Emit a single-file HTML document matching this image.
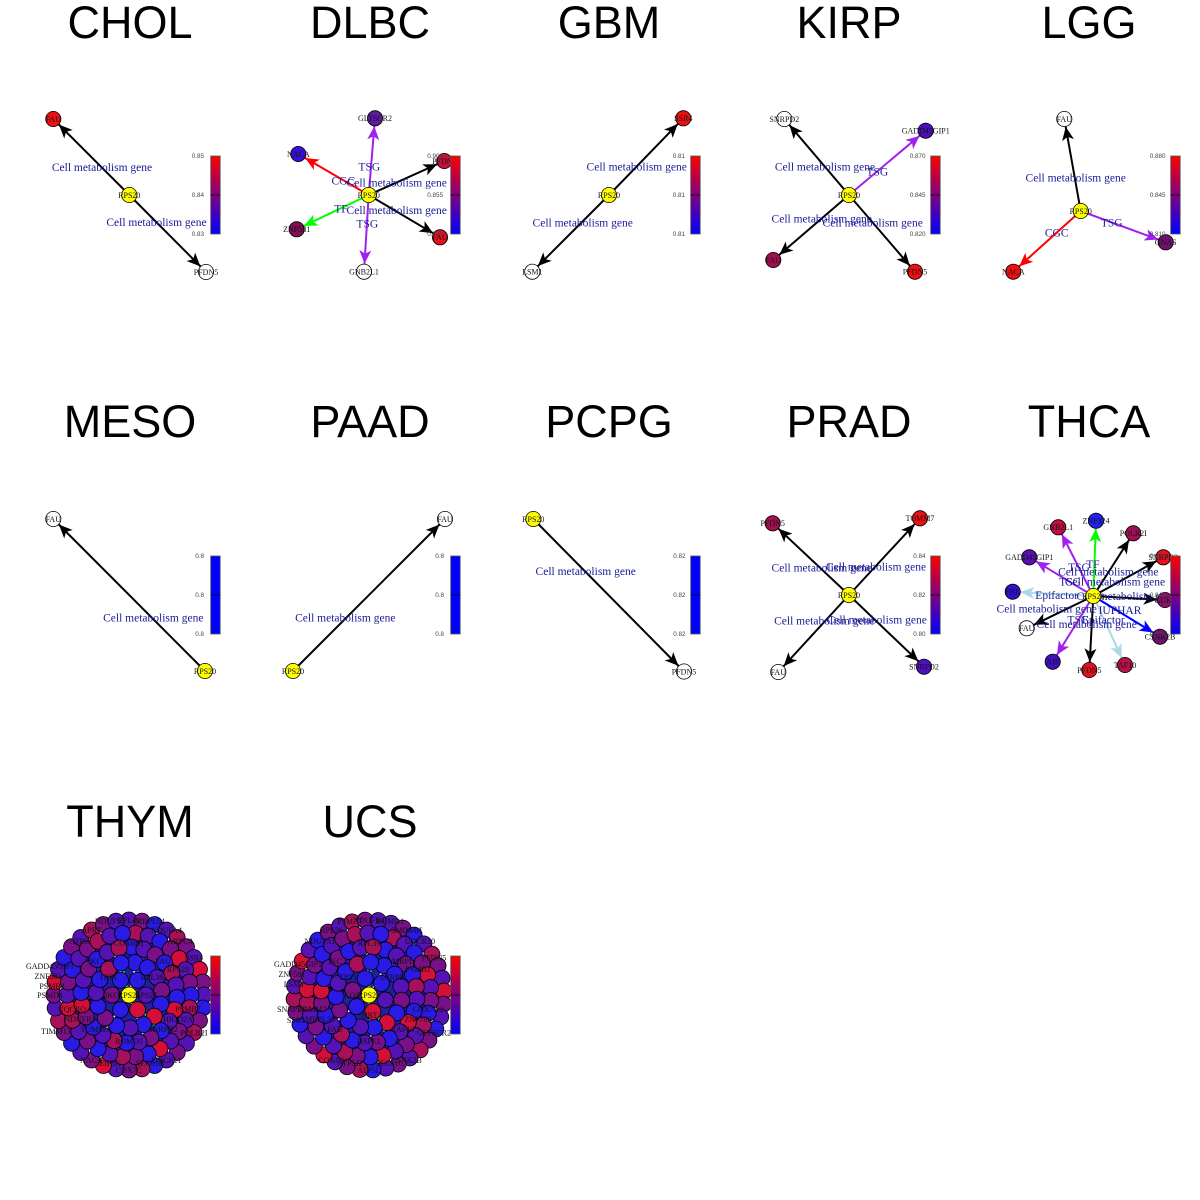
<!DOCTYPE html>
<html><head><meta charset="utf-8"><style>
html,body{margin:0;padding:0;background:#fff;}
svg{display:block;}
.t{font-family:"Liberation Sans",Arial,sans-serif;font-size:45px;fill:#000;text-anchor:middle;}
.el{font-family:"Liberation Serif","Times New Roman",serif;font-size:11.5px;fill:#1a1a96;text-anchor:middle;}
.nl{font-family:"Liberation Serif","Times New Roman",serif;font-size:8px;fill:#111;text-anchor:middle;}
.cl{font-family:"Liberation Sans",Arial,sans-serif;font-size:6.3px;fill:#444;text-anchor:end;}
.e{stroke-width:2;fill:none;}
</style></head><body>
<svg width="1200" height="1200" viewBox="0 0 1200 1200" xmlns="http://www.w3.org/2000/svg">
<defs>
<marker id="mk" markerUnits="userSpaceOnUse" markerWidth="30" markerHeight="14" viewBox="0 0 30 14" refX="21.5" refY="7" orient="auto" overflow="visible"><path d="M0,1 L13.5,7 L0,13 L3.5,7 Z" fill="#000"/></marker>
<marker id="mr" markerUnits="userSpaceOnUse" markerWidth="30" markerHeight="14" viewBox="0 0 30 14" refX="21.5" refY="7" orient="auto" overflow="visible"><path d="M0,1 L13.5,7 L0,13 L3.5,7 Z" fill="#ff0000"/></marker>
<marker id="mp" markerUnits="userSpaceOnUse" markerWidth="30" markerHeight="14" viewBox="0 0 30 14" refX="21.5" refY="7" orient="auto" overflow="visible"><path d="M0,1 L13.5,7 L0,13 L3.5,7 Z" fill="#a020f0"/></marker>
<marker id="mg" markerUnits="userSpaceOnUse" markerWidth="30" markerHeight="14" viewBox="0 0 30 14" refX="21.5" refY="7" orient="auto" overflow="visible"><path d="M0,1 L13.5,7 L0,13 L3.5,7 Z" fill="#00ff00"/></marker>
<marker id="ml" markerUnits="userSpaceOnUse" markerWidth="30" markerHeight="14" viewBox="0 0 30 14" refX="21.5" refY="7" orient="auto" overflow="visible"><path d="M0,1 L13.5,7 L0,13 L3.5,7 Z" fill="#add8e6"/></marker>
<marker id="mb" markerUnits="userSpaceOnUse" markerWidth="30" markerHeight="14" viewBox="0 0 30 14" refX="21.5" refY="7" orient="auto" overflow="visible"><path d="M0,1 L13.5,7 L0,13 L3.5,7 Z" fill="#0000ff"/></marker>
<linearGradient id="cb" x1="0" y1="0" x2="0" y2="1"><stop offset="0" stop-color="#ff0000"/><stop offset="0.5" stop-color="#800080"/><stop offset="1" stop-color="#0000ff"/></linearGradient>
<g id="cbar"><rect x="0" y="0" width="9.5" height="78" fill="url(#cb)" stroke="#555" stroke-width="0.8"/><line x1="0" y1="39" x2="9.5" y2="39" stroke="#000" stroke-width="0.8"/></g>
<g id="cbarb"><rect x="0" y="0" width="9.5" height="78" fill="#0000ff" stroke="#555" stroke-width="0.8"/><line x1="0" y1="39" x2="9.5" y2="39" stroke="#000" stroke-width="0.8"/></g>
</defs>
<rect width="1200" height="1200" fill="#fff"/>

<!-- Titles -->
<text class="t" x="130" y="38">CHOL</text>
<text class="t" x="370" y="38">DLBC</text>
<text class="t" x="609" y="38">GBM</text>
<text class="t" x="849" y="38">KIRP</text>
<text class="t" x="1089" y="38">LGG</text>
<text class="t" x="130" y="437">MESO</text>
<text class="t" x="370" y="437">PAAD</text>
<text class="t" x="609" y="437">PCPG</text>
<text class="t" x="849" y="437">PRAD</text>
<text class="t" x="1089" y="437">THCA</text>
<text class="t" x="130" y="837">THYM</text>
<text class="t" x="370" y="837">UCS</text>

<!-- CHOL -->
<g>
<line class="e" x1="129.3" y1="195" x2="53.3" y2="119" stroke="#000" marker-end="url(#mk)"/>
<line class="e" x1="129.3" y1="195" x2="206" y2="272" stroke="#000" marker-end="url(#mk)"/>
<text class="el" x="102" y="171">Cell metabolism gene</text>
<text class="el" x="156.5" y="226">Cell metabolism gene</text>
<g stroke="#000" stroke-width="0.8">
<circle cx="53.3" cy="119" r="7.6" fill="#ee1010"/>
<circle cx="129.3" cy="195" r="7.6" fill="#ffff00"/>
<circle cx="206" cy="272" r="7.6" fill="#fff"/>
</g>
<text class="nl" x="53.3" y="121.8">FAU</text>
<text class="nl" x="129.3" y="197.8">RPS20</text>
<text class="nl" x="206" y="274.8">PFDN5</text>
<use href="#cbar" x="210.7" y="156"/>
<text class="cl" x="204" y="158.2">0.85</text>
<text class="cl" x="204" y="197.2">0.84</text>
<text class="cl" x="204" y="236.2">0.83</text>
</g>

<!-- DLBC -->
<g>
<line class="e" x1="368.7" y1="195" x2="375" y2="118.3" stroke="#a020f0" marker-end="url(#mp)"/>
<line class="e" x1="368.7" y1="195" x2="298.3" y2="154" stroke="#ff0000" marker-end="url(#mr)"/>
<line class="e" x1="368.7" y1="195" x2="444.3" y2="161" stroke="#000" marker-end="url(#mk)"/>
<line class="e" x1="368.7" y1="195" x2="296.7" y2="229.3" stroke="#00ff00" marker-end="url(#mg)"/>
<line class="e" x1="368.7" y1="195" x2="440" y2="237.3" stroke="#000" marker-end="url(#mk)"/>
<line class="e" x1="368.7" y1="195" x2="364" y2="271.7" stroke="#a020f0" marker-end="url(#mp)"/>
<text class="el" x="369.3" y="170.7">TSG</text>
<text class="el" x="343.3" y="184.7">CGC</text>
<text class="el" x="396.7" y="186.3">Cell metabolism gene</text>
<text class="el" x="341" y="212.3">TF</text>
<text class="el" x="396.7" y="214">Cell metabolism gene</text>
<text class="el" x="367.3" y="227.3">TSG</text>
<g stroke="#000" stroke-width="0.8">
<circle cx="375" cy="118.3" r="7.6" fill="#5c1a9e"/>
<circle cx="298.3" cy="154" r="7.6" fill="#3410d4"/>
<circle cx="444.3" cy="161" r="7.6" fill="#c4103c"/>
<circle cx="296.7" cy="229.3" r="7.6" fill="#801052"/>
<circle cx="440" cy="237.3" r="7.6" fill="#e8101c"/>
<circle cx="364" cy="271.7" r="7.6" fill="#fff"/>
<circle cx="368.7" cy="195" r="7.6" fill="#ffff00"/>
</g>
<text class="nl" x="375" y="121.1">GLTSCR2</text>
<text class="nl" x="298.3" y="156.8">NACA</text>
<text class="nl" x="444.3" y="163.8">PFDN5</text>
<text class="nl" x="296.7" y="232.1">ZNF581</text>
<text class="nl" x="440" y="240.1">FAU</text>
<text class="nl" x="364" y="274.5">GNB2L1</text>
<text class="nl" x="368.7" y="197.8">RPS20</text>
<use href="#cbar" x="450.7" y="156"/>
<text class="cl" x="443" y="158.2">0.900</text>
<text class="cl" x="443" y="197.2">0.855</text>
<text class="cl" x="443" y="236.2">0.810</text>
</g>

<!-- GBM -->
<g>
<line class="e" x1="609" y1="195" x2="683.3" y2="118.3" stroke="#000" marker-end="url(#mk)"/>
<line class="e" x1="609" y1="195" x2="532.3" y2="271.7" stroke="#000" marker-end="url(#mk)"/>
<text class="el" x="636.7" y="170.7">Cell metabolism gene</text>
<text class="el" x="582.7" y="226.3">Cell metabolism gene</text>
<g stroke="#000" stroke-width="0.8">
<circle cx="683.3" cy="118.3" r="7.6" fill="#ee1010"/>
<circle cx="609" cy="195" r="7.6" fill="#ffff00"/>
<circle cx="532.3" cy="271.7" r="7.6" fill="#fff"/>
</g>
<text class="nl" x="683.3" y="121.1">SSR4</text>
<text class="nl" x="609" y="197.8">RPS20</text>
<text class="nl" x="532.3" y="274.5">LSM1</text>
<use href="#cbar" x="690.7" y="156"/>
<text class="cl" x="685" y="158.2">0.81</text>
<text class="cl" x="685" y="197.2">0.81</text>
<text class="cl" x="685" y="236.2">0.81</text>
</g>

<!-- KIRP -->
<g>
<line class="e" x1="849" y1="195" x2="784.3" y2="119" stroke="#000" marker-end="url(#mk)"/>
<line class="e" x1="849" y1="195" x2="925.7" y2="130.7" stroke="#a020f0" marker-end="url(#mp)"/>
<line class="e" x1="849" y1="195" x2="773.3" y2="260" stroke="#000" marker-end="url(#mk)"/>
<line class="e" x1="849" y1="195" x2="915" y2="271.7" stroke="#000" marker-end="url(#mk)"/>
<text class="el" x="825" y="170.7">Cell metabolism gene</text>
<text class="el" x="877.3" y="175.7">TSG</text>
<text class="el" x="821.7" y="222.3">Cell metabolism gene</text>
<text class="el" x="872.7" y="226.7">Cell metabolism gene</text>
<g stroke="#000" stroke-width="0.8">
<circle cx="784.3" cy="119" r="7.6" fill="#fff"/>
<circle cx="925.7" cy="130.7" r="7.6" fill="#4a10b8"/>
<circle cx="773.3" cy="260" r="7.6" fill="#a01050"/>
<circle cx="915" cy="271.7" r="7.6" fill="#ee1010"/>
<circle cx="849" cy="195" r="7.6" fill="#ffff00"/>
</g>
<text class="nl" x="784.3" y="121.8">SNRPD2</text>
<text class="nl" x="925.7" y="133.5">GADD45GIP1</text>
<text class="nl" x="773.3" y="262.8">FAU</text>
<text class="nl" x="915" y="274.5">PFDN5</text>
<text class="nl" x="849" y="197.8">RPS20</text>
<use href="#cbar" x="930.7" y="156"/>
<text class="cl" x="925.5" y="158.2">0.870</text>
<text class="cl" x="925.5" y="197.2">0.845</text>
<text class="cl" x="925.5" y="236.2">0.820</text>
</g>

<!-- LGG -->
<g>
<line class="e" x1="1080.7" y1="211" x2="1064.3" y2="119" stroke="#000" marker-end="url(#mk)"/>
<line class="e" x1="1080.7" y1="211" x2="1013.3" y2="271.7" stroke="#ff0000" marker-end="url(#mr)"/>
<line class="e" x1="1080.7" y1="211" x2="1165.7" y2="242.3" stroke="#a020f0" marker-end="url(#mp)"/>
<text class="el" x="1075.7" y="181.3">Cell metabolism gene</text>
<text class="el" x="1111.7" y="226.3">TSG</text>
<text class="el" x="1056.7" y="236.7">CGC</text>
<g stroke="#000" stroke-width="0.8">
<circle cx="1064.3" cy="119" r="7.6" fill="#fff"/>
<circle cx="1013.3" cy="271.7" r="7.6" fill="#ee1010"/>
<circle cx="1165.7" cy="242.3" r="7.6" fill="#701070"/>
<circle cx="1080.7" cy="211" r="7.6" fill="#ffff00"/>
</g>
<text class="nl" x="1064.3" y="121.8">FAU</text>
<text class="nl" x="1013.3" y="274.5">NACA</text>
<text class="nl" x="1165.7" y="245.1">GNAS</text>
<text class="nl" x="1080.7" y="213.8">RPS20</text>
<use href="#cbar" x="1170.7" y="156"/>
<text class="cl" x="1165.5" y="158.2">0.880</text>
<text class="cl" x="1165.5" y="197.2">0.845</text>
<text class="cl" x="1165.5" y="236.2">0.810</text>
</g>

<!-- MESO -->
<g>
<line class="e" x1="205" y1="671" x2="53.3" y2="519" stroke="#000" marker-end="url(#mk)"/>
<text class="el" x="153.3" y="621.7">Cell metabolism gene</text>
<g stroke="#000" stroke-width="0.8">
<circle cx="53.3" cy="519" r="7.6" fill="#fff"/>
<circle cx="205" cy="671" r="7.6" fill="#ffff00"/>
</g>
<text class="nl" x="53.3" y="521.8">FAU</text>
<text class="nl" x="205" y="673.8">RPS20</text>
<use href="#cbarb" x="210.7" y="556"/>
<text class="cl" x="204" y="558.2">0.8</text>
<text class="cl" x="204" y="597.2">0.8</text>
<text class="cl" x="204" y="636.2">0.8</text>
</g>

<!-- PAAD -->
<g>
<line class="e" x1="293" y1="671" x2="445" y2="519" stroke="#000" marker-end="url(#mk)"/>
<text class="el" x="345.3" y="621.7">Cell metabolism gene</text>
<g stroke="#000" stroke-width="0.8">
<circle cx="445" cy="519" r="7.6" fill="#fff"/>
<circle cx="293" cy="671" r="7.6" fill="#ffff00"/>
</g>
<text class="nl" x="445" y="521.8">FAU</text>
<text class="nl" x="293" y="673.8">RPS20</text>
<use href="#cbarb" x="450.7" y="556"/>
<text class="cl" x="444" y="558.2">0.8</text>
<text class="cl" x="444" y="597.2">0.8</text>
<text class="cl" x="444" y="636.2">0.8</text>
</g>

<!-- PCPG -->
<g>
<line class="e" x1="533.3" y1="519" x2="684" y2="671.5" stroke="#000" marker-end="url(#mk)"/>
<text class="el" x="585.7" y="575">Cell metabolism gene</text>
<g stroke="#000" stroke-width="0.8">
<circle cx="533.3" cy="519" r="7.6" fill="#ffff00"/>
<circle cx="684" cy="671.5" r="7.6" fill="#fff"/>
</g>
<text class="nl" x="533.3" y="521.8">RPS20</text>
<text class="nl" x="684" y="674.3">PFDN5</text>
<use href="#cbarb" x="690.7" y="556"/>
<text class="cl" x="685.5" y="558.2">0.82</text>
<text class="cl" x="685.5" y="597.2">0.82</text>
<text class="cl" x="685.5" y="636.2">0.82</text>
</g>

<!-- PRAD -->
<g>
<line class="e" x1="849" y1="595" x2="772.7" y2="523.3" stroke="#000" marker-end="url(#mk)"/>
<line class="e" x1="849" y1="595" x2="920" y2="518.3" stroke="#000" marker-end="url(#mk)"/>
<line class="e" x1="849" y1="595" x2="778.3" y2="672" stroke="#000" marker-end="url(#mk)"/>
<line class="e" x1="849" y1="595" x2="924" y2="666.7" stroke="#000" marker-end="url(#mk)"/>
<text class="el" x="821.7" y="571.7">Cell metabolism gene</text>
<text class="el" x="876" y="570.7">Cell metabolism gene</text>
<text class="el" x="824.3" y="624.7">Cell metabolism gene</text>
<text class="el" x="876.7" y="623.3">Cell metabolism gene</text>
<g stroke="#000" stroke-width="0.8">
<circle cx="772.7" cy="523.3" r="7.6" fill="#a01050"/>
<circle cx="920" cy="518.3" r="7.6" fill="#ee1010"/>
<circle cx="778.3" cy="672" r="7.6" fill="#fff"/>
<circle cx="924" cy="666.7" r="7.6" fill="#5010c0"/>
<circle cx="849" cy="595" r="7.6" fill="#ffff00"/>
</g>
<text class="nl" x="772.7" y="526.1">PFDN5</text>
<text class="nl" x="920" y="521.1">TOMM7</text>
<text class="nl" x="778.3" y="674.8">FAU</text>
<text class="nl" x="924" y="669.5">SNRPD2</text>
<text class="nl" x="849" y="597.8">RPS20</text>
<use href="#cbar" x="930.7" y="556"/>
<text class="cl" x="925.5" y="558.2">0.84</text>
<text class="cl" x="925.5" y="597.2">0.82</text>
<text class="cl" x="925.5" y="636.2">0.80</text>
</g>

<!-- THCA -->
<g>
<line class="e" x1="1093.3" y1="596" x2="1096" y2="520.7" stroke="#00ff00" marker-end="url(#mg)"/>
<line class="e" x1="1093.3" y1="596" x2="1058.3" y2="527.3" stroke="#a020f0" marker-end="url(#mp)"/>
<line class="e" x1="1093.3" y1="596" x2="1133.3" y2="533.3" stroke="#000" marker-end="url(#mk)"/>
<line class="e" x1="1093.3" y1="596" x2="1029.3" y2="557.3" stroke="#a020f0" marker-end="url(#mp)"/>
<line class="e" x1="1093.3" y1="596" x2="1163.3" y2="557.3" stroke="#000" marker-end="url(#mk)"/>
<line class="e" x1="1093.3" y1="596" x2="1012.7" y2="591.7" stroke="#add8e6" marker-end="url(#ml)"/>
<line class="e" x1="1093.3" y1="596" x2="1165" y2="600" stroke="#000" marker-end="url(#mk)"/>
<line class="e" x1="1093.3" y1="596" x2="1026.7" y2="628.3" stroke="#000" marker-end="url(#mk)"/>
<line class="e" x1="1093.3" y1="596" x2="1160" y2="636.7" stroke="#0000ff" marker-end="url(#mb)"/>
<line class="e" x1="1093.3" y1="596" x2="1052.7" y2="661.7" stroke="#a020f0" marker-end="url(#mp)"/>
<line class="e" x1="1093.3" y1="596" x2="1089.3" y2="670" stroke="#000" marker-end="url(#mk)"/>
<line class="e" x1="1093.3" y1="596" x2="1125" y2="665" stroke="#add8e6" marker-end="url(#ml)"/>
<text class="el" x="1079" y="571">TSG</text>
<text class="el" x="1093" y="568">TF</text>
<text class="el" x="1108.3" y="575.7">Cell metabolism gene</text>
<text class="el" x="1070" y="585.7">TSG</text>
<text class="el" x="1115" y="585.7">Cell metabolism gene</text>
<text class="el" x="1126.7" y="600">Cell metabolism gene</text>
<text class="el" x="1056.7" y="599">Epifactor</text>
<text class="el" x="1046.7" y="612.3">Cell metabolism gene</text>
<text class="el" x="1120" y="614">IUPHAR</text>
<text class="el" x="1078.3" y="623.3">TSG</text>
<text class="el" x="1103.3" y="623.3">Epifactor</text>
<text class="el" x="1086.7" y="628">Cell metabolism gene</text>
<g stroke="#000" stroke-width="0.8">
<circle cx="1096" cy="520.7" r="7.6" fill="#2222ee"/>
<circle cx="1058.3" cy="527.3" r="7.6" fill="#c01040"/>
<circle cx="1133.3" cy="533.3" r="7.6" fill="#a01058"/>
<circle cx="1029.3" cy="557.3" r="7.6" fill="#5a10b0"/>
<circle cx="1163.3" cy="557.3" r="7.6" fill="#e81020"/>
<circle cx="1012.7" cy="591.7" r="7.6" fill="#3010d0"/>
<circle cx="1165" cy="600" r="7.6" fill="#8a1068"/>
<circle cx="1026.7" cy="628.3" r="7.6" fill="#fff"/>
<circle cx="1160" cy="636.7" r="7.6" fill="#701070"/>
<circle cx="1052.7" cy="661.7" r="7.6" fill="#4010c0"/>
<circle cx="1089.3" cy="670" r="7.6" fill="#e01020"/>
<circle cx="1125" cy="665" r="7.6" fill="#b81048"/>
<circle cx="1093.3" cy="596" r="7.6" fill="#ffff00"/>
</g>
<text class="nl" x="1096" y="523.5">ZNF324</text>
<text class="nl" x="1058.3" y="530.1">GNB2L1</text>
<text class="nl" x="1133.3" y="536.1">POLR2I</text>
<text class="nl" x="1029.3" y="560.1">GADD45GIP1</text>
<text class="nl" x="1163.3" y="560.1">SNRPD2</text>
<text class="nl" x="1012.7" y="594.5">FBL</text>
<text class="nl" x="1165" y="602.8">GUK1</text>
<text class="nl" x="1026.7" y="631.1">FAU</text>
<text class="nl" x="1160" y="639.5">CSNK2B</text>
<text class="nl" x="1052.7" y="664.5">AIP</text>
<text class="nl" x="1089.3" y="672.8">PFDN5</text>
<text class="nl" x="1125" y="667.8">TAF10</text>
<text class="nl" x="1093.3" y="598.8">RPS20</text>
<use href="#cbar" x="1170.7" y="556"/>
<text class="cl" x="1165.5" y="558.2">0.880</text>
<text class="cl" x="1165.5" y="597.2">0.845</text>
<text class="cl" x="1165.5" y="636.2">0.810</text>
</g>

<!-- THYM hairball -->
<g id="hb">
<circle cx="129" cy="995" r="66" fill="#20209c"/>
<g stroke-width="1.6">
<line x1="129" y1="995" x2="112" y2="948" stroke="#fff"/>
<line x1="129" y1="995" x2="118" y2="946" stroke="#00ff00"/>
<line x1="129" y1="995" x2="140" y2="946" stroke="#fff"/>
<line x1="129" y1="995" x2="146" y2="948" stroke="#a020f0"/>
<line x1="129" y1="995" x2="156" y2="952" stroke="#00ff00"/>
<line x1="129" y1="995" x2="101" y2="1036" stroke="#fff"/>
<line x1="129" y1="995" x2="110" y2="1041" stroke="#000"/>
<line x1="129" y1="995" x2="146" y2="1042" stroke="#fff"/>
<line x1="129" y1="995" x2="152" y2="1038" stroke="#000"/>
<line x1="129" y1="995" x2="160" y2="1032" stroke="#00ff00"/>
<line x1="129" y1="995" x2="175" y2="990" stroke="#add8e6"/>
<line x1="129" y1="995" x2="88" y2="1000" stroke="#000"/>
</g>
<g stroke="#000" stroke-width="0.8">
<!-- Ring A R=75 -->
<circle cx="129" cy="920" r="8" fill="#5512b5" transform="rotate(0 129 995)"/>
<circle cx="129" cy="920" r="8" fill="#7a1088" transform="rotate(10 129 995)"/>
<circle cx="129" cy="920" r="8" fill="#2a1ae6" transform="rotate(20 129 995)"/>
<circle cx="129" cy="920" r="8" fill="#5512b5" transform="rotate(30 129 995)"/>
<circle cx="129" cy="920" r="8" fill="#a8105a" transform="rotate(40 129 995)"/>
<circle cx="129" cy="920" r="8" fill="#7a1088" transform="rotate(50 129 995)"/>
<circle cx="129" cy="920" r="8" fill="#5512b5" transform="rotate(60 129 995)"/>
<circle cx="129" cy="920" r="8" fill="#d4103a" transform="rotate(70 129 995)"/>
<circle cx="129" cy="920" r="8" fill="#7a1088" transform="rotate(80 129 995)"/>
<circle cx="129" cy="920" r="8" fill="#5512b5" transform="rotate(90 129 995)"/>
<circle cx="129" cy="920" r="8" fill="#2a1ae6" transform="rotate(100 129 995)"/>
<circle cx="129" cy="920" r="8" fill="#7a1088" transform="rotate(110 129 995)"/>
<circle cx="129" cy="920" r="8" fill="#a8105a" transform="rotate(120 129 995)"/>
<circle cx="129" cy="920" r="8" fill="#5512b5" transform="rotate(130 129 995)"/>
<circle cx="129" cy="920" r="8" fill="#7a1088" transform="rotate(140 129 995)"/>
<circle cx="129" cy="920" r="8" fill="#5512b5" transform="rotate(150 129 995)"/>
<circle cx="129" cy="920" r="8" fill="#2a1ae6" transform="rotate(160 129 995)"/>
<circle cx="129" cy="920" r="8" fill="#a8105a" transform="rotate(170 129 995)"/>
<circle cx="129" cy="920" r="8" fill="#7a1088" transform="rotate(180 129 995)"/>
<circle cx="129" cy="920" r="8" fill="#5512b5" transform="rotate(190 129 995)"/>
<circle cx="129" cy="920" r="8" fill="#d4103a" transform="rotate(200 129 995)"/>
<circle cx="129" cy="920" r="8" fill="#7a1088" transform="rotate(210 129 995)"/>
<circle cx="129" cy="920" r="8" fill="#5512b5" transform="rotate(220 129 995)"/>
<circle cx="129" cy="920" r="8" fill="#2a1ae6" transform="rotate(230 129 995)"/>
<circle cx="129" cy="920" r="8" fill="#7a1088" transform="rotate(240 129 995)"/>
<circle cx="129" cy="920" r="8" fill="#a8105a" transform="rotate(250 129 995)"/>
<circle cx="129" cy="920" r="8" fill="#5512b5" transform="rotate(260 129 995)"/>
<circle cx="129" cy="920" r="8" fill="#7a1088" transform="rotate(270 129 995)"/>
<circle cx="129" cy="920" r="8" fill="#d4103a" transform="rotate(280 129 995)"/>
<circle cx="129" cy="920" r="8" fill="#5512b5" transform="rotate(290 129 995)"/>
<circle cx="129" cy="920" r="8" fill="#2a1ae6" transform="rotate(300 129 995)"/>
<circle cx="129" cy="920" r="8" fill="#7a1088" transform="rotate(310 129 995)"/>
<circle cx="129" cy="920" r="8" fill="#5512b5" transform="rotate(320 129 995)"/>
<circle cx="129" cy="920" r="8" fill="#a8105a" transform="rotate(330 129 995)"/>
<circle cx="129" cy="920" r="8" fill="#7a1088" transform="rotate(340 129 995)"/>
<circle cx="129" cy="920" r="8" fill="#5512b5" transform="rotate(350 129 995)"/>
<!-- Ring B R=62 -->
<circle cx="129" cy="933" r="8" fill="#a8105a" transform="rotate(6 129 995)"/>
<circle cx="129" cy="933" r="8" fill="#5512b5" transform="rotate(18 129 995)"/>
<circle cx="129" cy="933" r="8" fill="#2a1ae6" transform="rotate(30 129 995)"/>
<circle cx="129" cy="933" r="8" fill="#7a1088" transform="rotate(42 129 995)"/>
<circle cx="129" cy="933" r="8" fill="#d4103a" transform="rotate(54 129 995)"/>
<circle cx="129" cy="933" r="8" fill="#5512b5" transform="rotate(66 129 995)"/>
<circle cx="129" cy="933" r="8" fill="#7a1088" transform="rotate(78 129 995)"/>
<circle cx="129" cy="933" r="8" fill="#2a1ae6" transform="rotate(90 129 995)"/>
<circle cx="129" cy="933" r="8" fill="#a8105a" transform="rotate(102 129 995)"/>
<circle cx="129" cy="933" r="8" fill="#5512b5" transform="rotate(114 129 995)"/>
<circle cx="129" cy="933" r="8" fill="#7a1088" transform="rotate(126 129 995)"/>
<circle cx="129" cy="933" r="8" fill="#5512b5" transform="rotate(138 129 995)"/>
<circle cx="129" cy="933" r="8" fill="#d4103a" transform="rotate(150 129 995)"/>
<circle cx="129" cy="933" r="8" fill="#2a1ae6" transform="rotate(162 129 995)"/>
<circle cx="129" cy="933" r="8" fill="#7a1088" transform="rotate(174 129 995)"/>
<circle cx="129" cy="933" r="8" fill="#a8105a" transform="rotate(186 129 995)"/>
<circle cx="129" cy="933" r="8" fill="#5512b5" transform="rotate(198 129 995)"/>
<circle cx="129" cy="933" r="8" fill="#2a1ae6" transform="rotate(210 129 995)"/>
<circle cx="129" cy="933" r="8" fill="#7a1088" transform="rotate(222 129 995)"/>
<circle cx="129" cy="933" r="8" fill="#5512b5" transform="rotate(234 129 995)"/>
<circle cx="129" cy="933" r="8" fill="#a8105a" transform="rotate(246 129 995)"/>
<circle cx="129" cy="933" r="8" fill="#d4103a" transform="rotate(258 129 995)"/>
<circle cx="129" cy="933" r="8" fill="#5512b5" transform="rotate(270 129 995)"/>
<circle cx="129" cy="933" r="8" fill="#7a1088" transform="rotate(282 129 995)"/>
<circle cx="129" cy="933" r="8" fill="#2a1ae6" transform="rotate(294 129 995)"/>
<circle cx="129" cy="933" r="8" fill="#5512b5" transform="rotate(306 129 995)"/>
<circle cx="129" cy="933" r="8" fill="#7a1088" transform="rotate(318 129 995)"/>
<circle cx="129" cy="933" r="8" fill="#a8105a" transform="rotate(330 129 995)"/>
<circle cx="129" cy="933" r="8" fill="#5512b5" transform="rotate(342 129 995)"/>
<circle cx="129" cy="933" r="8" fill="#2a1ae6" transform="rotate(354 129 995)"/>
<!-- Ring C R=48 -->
<circle cx="129" cy="947" r="8" fill="#2a1ae6" transform="rotate(3 129 995)"/>
<circle cx="129" cy="947" r="8" fill="#5512b5" transform="rotate(18 129 995)"/>
<circle cx="129" cy="947" r="8" fill="#7a1088" transform="rotate(33 129 995)"/>
<circle cx="129" cy="947" r="8" fill="#2a1ae6" transform="rotate(48 129 995)"/>
<circle cx="129" cy="947" r="8" fill="#a8105a" transform="rotate(63 129 995)"/>
<circle cx="129" cy="947" r="8" fill="#5512b5" transform="rotate(78 129 995)"/>
<circle cx="129" cy="947" r="8" fill="#2a1ae6" transform="rotate(93 129 995)"/>
<circle cx="129" cy="947" r="8" fill="#d4103a" transform="rotate(108 129 995)"/>
<circle cx="129" cy="947" r="8" fill="#5512b5" transform="rotate(123 129 995)"/>
<circle cx="129" cy="947" r="8" fill="#2a1ae6" transform="rotate(138 129 995)"/>
<circle cx="129" cy="947" r="8" fill="#7a1088" transform="rotate(153 129 995)"/>
<circle cx="129" cy="947" r="8" fill="#5512b5" transform="rotate(168 129 995)"/>
<circle cx="129" cy="947" r="8" fill="#2a1ae6" transform="rotate(183 129 995)"/>
<circle cx="129" cy="947" r="8" fill="#a8105a" transform="rotate(198 129 995)"/>
<circle cx="129" cy="947" r="8" fill="#5512b5" transform="rotate(213 129 995)"/>
<circle cx="129" cy="947" r="8" fill="#2a1ae6" transform="rotate(228 129 995)"/>
<circle cx="129" cy="947" r="8" fill="#7a1088" transform="rotate(243 129 995)"/>
<circle cx="129" cy="947" r="8" fill="#d4103a" transform="rotate(258 129 995)"/>
<circle cx="129" cy="947" r="8" fill="#2a1ae6" transform="rotate(273 129 995)"/>
<circle cx="129" cy="947" r="8" fill="#5512b5" transform="rotate(288 129 995)"/>
<circle cx="129" cy="947" r="8" fill="#7a1088" transform="rotate(303 129 995)"/>
<circle cx="129" cy="947" r="8" fill="#2a1ae6" transform="rotate(318 129 995)"/>
<circle cx="129" cy="947" r="8" fill="#5512b5" transform="rotate(333 129 995)"/>
<circle cx="129" cy="947" r="8" fill="#a8105a" transform="rotate(348 129 995)"/>
<!-- Ring D R=33 -->
<circle cx="129" cy="962" r="8" fill="#2a1ae6" transform="rotate(10 129 995)"/>
<circle cx="129" cy="962" r="8" fill="#2a1ae6" transform="rotate(34 129 995)"/>
<circle cx="129" cy="962" r="8" fill="#5512b5" transform="rotate(58 129 995)"/>
<circle cx="129" cy="962" r="8" fill="#7a1088" transform="rotate(82 129 995)"/>
<circle cx="129" cy="962" r="8" fill="#2a1ae6" transform="rotate(106 129 995)"/>
<circle cx="129" cy="962" r="8" fill="#d4103a" transform="rotate(130 129 995)"/>
<circle cx="129" cy="962" r="8" fill="#2a1ae6" transform="rotate(154 129 995)"/>
<circle cx="129" cy="962" r="8" fill="#5512b5" transform="rotate(178 129 995)"/>
<circle cx="129" cy="962" r="8" fill="#2a1ae6" transform="rotate(202 129 995)"/>
<circle cx="129" cy="962" r="8" fill="#7a1088" transform="rotate(226 129 995)"/>
<circle cx="129" cy="962" r="8" fill="#2a1ae6" transform="rotate(250 129 995)"/>
<circle cx="129" cy="962" r="8" fill="#5512b5" transform="rotate(274 129 995)"/>
<circle cx="129" cy="962" r="8" fill="#2a1ae6" transform="rotate(298 129 995)"/>
<circle cx="129" cy="962" r="8" fill="#a8105a" transform="rotate(322 129 995)"/>
<circle cx="129" cy="962" r="8" fill="#2a1ae6" transform="rotate(346 129 995)"/>
<!-- Ring E R=17 -->
<circle cx="129" cy="978" r="8" fill="#2a1ae6" transform="rotate(30 129 995)"/>
<circle cx="129" cy="978" r="8" fill="#5512b5" transform="rotate(90 129 995)"/>
<circle cx="129" cy="978" r="8" fill="#d4103a" transform="rotate(150 129 995)"/>
<circle cx="129" cy="978" r="8" fill="#2a1ae6" transform="rotate(210 129 995)"/>
<circle cx="129" cy="978" r="8" fill="#7a1088" transform="rotate(270 129 995)"/>
<circle cx="129" cy="978" r="8" fill="#2a1ae6" transform="rotate(330 129 995)"/>
</g>
</g>
<circle cx="129" cy="995" r="8" fill="#ffff00" stroke="#000" stroke-width="0.8"/>
<g class="nl">
<text x="129" y="997.8">RPS20</text>
<text x="50" y="969">GADD45GIP1</text>
<text x="48" y="979">ZNF581</text>
<text x="52" y="989">PSMB3</text>
<text x="50" y="998">PSMD4</text>
<text x="56" y="1034">TIMM13</text>
<text x="129" y="922.8">RPL41</text>
<text x="166.5" y="932.8">NDUFA4</text>
<text x="194" y="960.3">SSR4</text>
<text x="194" y="1035.3">POLR2I</text>
<text x="166.5" y="1062.8">UQCR11</text>
<text x="129" y="1072.8">COX7C</text>
<text x="91.5" y="1062.8">NACA</text>
<text x="91.5" y="932.8">APRT</text>
<text x="163" y="963.8">FAU</text>
<text x="163" y="1031.8">SNRPD2</text>
<text x="95" y="1031.8">TOMM7</text>
<text x="95" y="963.8">IKC</text>
<text x="112" y="997.8">IKO</text>
<text x="146" y="997.8">RPS27</text>
<text x="110" y="924">NDUFS5</text>
<text x="150" y="924">MRPL54</text>
<text x="80" y="944">ATP5I</text>
<text x="180" y="944">ARPC4</text>
<text x="72" y="1012">UQCRQ</text>
<text x="188" y="1012">PSMB7</text>
<text x="110" y="1066">EIF3K</text>
<text x="150" y="1066">SEC61B</text>
<text x="129" y="946">COX6B1</text>
<text x="129" y="1044">ROMO1</text>
<text x="108" y="980">TPT1</text>
<text x="152" y="980">RPL38</text>
<text x="178" y="972">RPS28</text>
<text x="178" y="1022">HIGD2A</text>
<text x="80" y="1022">NDUFB1</text>
</g>
<use href="#cbar" x="210.7" y="956"/>

<!-- UCS hairball (rotated copy of layout) -->
<use href="#hb" transform="translate(240 0) rotate(17 129 995)"/>
<circle cx="369" cy="995" r="8" fill="#ffff00" stroke="#000" stroke-width="0.8"/>
<g class="nl">
<text x="369" y="997.8">RPS20</text>
<text x="298" y="967">GADD45GIP1</text>
<text x="292" y="977">ZNF581</text>
<text x="294" y="987">LSM1</text>
<text x="292" y="1012">SNRPD2</text>
<text x="296" y="1023">SSR4</text>
<text x="369" y="922.8">NDUFB4</text>
<text x="406.5" y="932.8">SMIM4H</text>
<text x="434" y="960.3">PFDN5</text>
<text x="434" y="1035.3">GLTSCR2</text>
<text x="406.5" y="1062.8">CSNK2B</text>
<text x="369" y="1072.8">ATP5L</text>
<text x="331.5" y="1062.8">COX6C</text>
<text x="331.5" y="932.8">RPL36</text>
<text x="403" y="963.8">MRPL</text>
<text x="403" y="1031.8">TAF10</text>
<text x="335" y="1031.8">FAU</text>
<text x="335" y="963.8">IKC</text>
<text x="369" y="1018">SIRT</text>
<text x="352" y="997.8">COS</text>
<text x="350" y="924">PSMA7</text>
<text x="390" y="924">ROMO1</text>
<text x="320" y="944">NDUFA1</text>
<text x="420" y="944">UQCR10</text>
<text x="312" y="1012">TOMM7</text>
<text x="428" y="1012">COX7A2</text>
<text x="350" y="1066">ATP5J2</text>
<text x="390" y="1066">SEC61G</text>
<text x="369" y="946">RPL39</text>
<text x="369" y="1044">HSPE1</text>
<text x="348" y="980">TPT1</text>
<text x="392" y="980">SNRPE</text>
<text x="418" y="972">PSMB1</text>
<text x="418" y="1022">ZNF706</text>
<text x="320" y="1022">MRPL33</text>
</g>
<use href="#cbar" x="450.7" y="956"/>
</svg>
</body></html>
